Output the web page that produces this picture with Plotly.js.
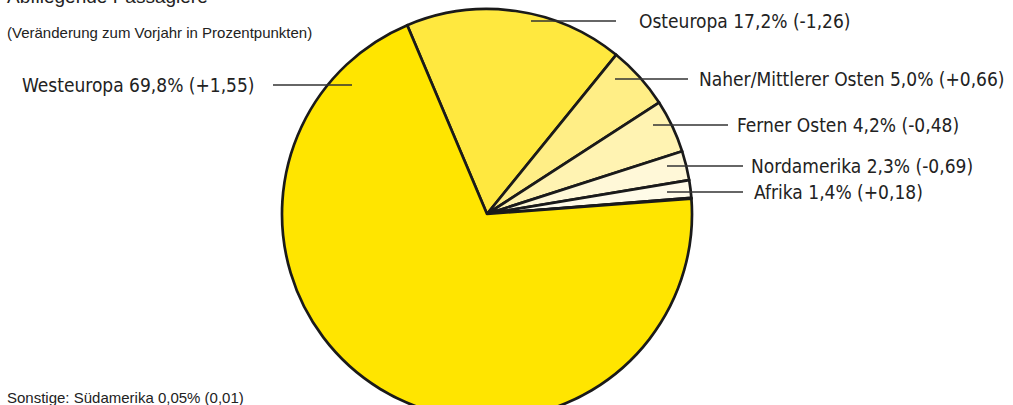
<!DOCTYPE html>
<html><head><meta charset="utf-8">
<script src="https://cdn.plot.ly/plotly-3.0.1.min.js"></script>
<style>html,body{margin:0;padding:0;overflow:hidden;background:#fff;width:1013px;height:405px}#c{width:1013px;height:440px}</style>
</head><body><div id="c"></div>
<script>
const regions = ["Osteuropa","Naher/Mittlerer Osten","Ferner Osten","Nordamerika","Afrika","Südamerika","Westeuropa"];
const shares = [17.2, 5.0, 4.2, 2.3, 1.4, 0.05, 69.8];
const changes = ["-1,26","+0,66","-0,48","-0,69","+0,18","0,01","+1,55"];
const shareLabels = ["17,2%","5,0%","4,2%","2,3%","1,4%","0,05%","69,8%"];
const sliceColors = ["#FFE83F","#FFEE86","#FFF3B2","#FFF8D8","#FFFBE8","#FFFDF2","#FFE500"];

const W = 1013, H = 440;
const px = x => x / W, py = y => (H - y) / H;
const labelFont = {family: "'DejaVu Sans Condensed',sans-serif", size: 19, color: "#222"};

// label placement (layout): [textX, textY, anchor, lineX0, lineX1]
const place = {
  "Osteuropa": [637, 21, "left", 531, 616],
  "Naher/Mittlerer Osten": [697, 79, "left", 615, 688],
  "Ferner Osten": [735, 125, "left", 653, 728],
  "Nordamerika": [749, 166, "left", 667, 743],
  "Afrika": [752, 192, "left", 667, 743],
  "Westeuropa": [257, 85, "right", 273, 352]
};

const annotations = [], shapes = [];
regions.forEach((r, i) => {
  const p = place[r];
  if (!p) return;
  annotations.push({xref:"paper", yref:"paper", x:px(p[0]), y:py(p[1]), xanchor:p[2], yanchor:"middle",
    text: r + " " + shareLabels[i] + " (" + changes[i] + ")", showarrow:false, font: labelFont});
  shapes.push({type:"line", xref:"paper", yref:"paper", x0:px(p[3]), x1:px(p[4]), y0:py(p[1]), y1:py(p[1]),
    line:{color:"#333", width:1.5}});
});
const smallFont = {family:"'Liberation Sans','Arial',sans-serif", size:15, color:"#222"};
const si = regions.indexOf("Südamerika");
annotations.push({xref:"paper", yref:"paper", x:px(5), y:py(397), xanchor:"left", yanchor:"middle",
  text:"Sonstige: " + regions[si] + " " + shareLabels[si] + " (" + changes[si] + ")", showarrow:false,
  font: smallFont});
annotations.push({xref:"paper", yref:"paper", x:px(5), y:py(32), xanchor:"left", yanchor:"middle",
  text:"(Veränderung zum Vorjahr in Prozentpunkten)", showarrow:false, font: smallFont});
annotations.push({xref:"paper", yref:"paper", x:px(5), y:py(-3), xanchor:"left", yanchor:"middle",
  text:"Abfliegende Passagiere", showarrow:false,
  font:{family:"'Liberation Sans','Arial',sans-serif", size:19, color:"#222"}});

Plotly.newPlot("c", [{
  type:"pie", labels: regions, values: shares, sort:false, direction:"clockwise", rotation:-22.9,
  marker:{colors: sliceColors, line:{color:"#1a1a1a", width:2.7}},
  textinfo:"none", hoverinfo:"label+percent",
  domain:{x:[px(282), px(692)], y:[py(419), py(9)]}
}], {
  width:W, height:H, margin:{l:0,r:0,t:0,b:0}, showlegend:false,
  paper_bgcolor:"#fff", annotations, shapes
}, {staticPlot:true});
</script></body></html>
